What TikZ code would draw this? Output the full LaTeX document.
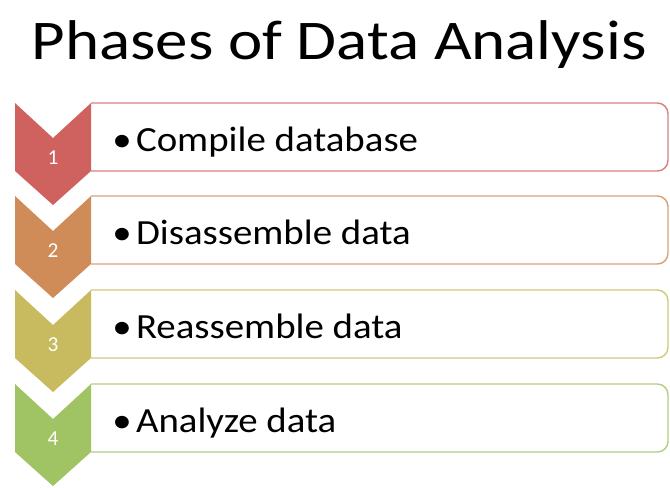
\documentclass[tikz,border=0pt]{standalone}
\usepackage{fontspec}
\setmainfont{Carlito}
\definecolor{phaseone}{RGB}{207,97,94}
\definecolor{phasetwo}{RGB}{207,140,88}
\definecolor{phasethree}{RGB}{200,187,95}
\definecolor{phasefour}{RGB}{160,195,100}

\begin{document}
\begin{tikzpicture}[x=0.75pt,y=-0.75pt,
  chevron/.style={fill=#1,draw=none},
  itembox/.style={draw=#1!80,line width=1.1pt,fill=white},
  itemtext/.style={anchor=base west,inner sep=0pt,xscale=1.1,font=\fontsize{26.5}{32}\selectfont},
  phasenum/.style={text=white,font=\fontsize{16}{18}\selectfont,inner sep=0pt}]
\useasboundingbox (0,0) rectangle (670,487);
\node[anchor=base,inner sep=0pt,xscale=1.16,font=\fontsize{42}{50}\selectfont] (title) at (339,59) {Phases of Data Analysis};
% phase 1
\draw[itembox=phaseone] (91,103) [rounded corners=8] -- (668,103) -- (668,171) [sharp corners] -- (91,171);
\fill[chevron=phaseone] (15,103) -- (53,138) -- (91,103) -- (91,171) -- (53,205) -- (15,171) -- cycle;
\node[phasenum] (n1) at (53,158) {1};
\node[itemtext] (t1) at (112,151) {•\hspace{3pt}Compile database};
% phase 2
\draw[itembox=phasetwo] (91,196) [rounded corners=8] -- (668,196) -- (668,264) [sharp corners] -- (91,264);
\fill[chevron=phasetwo] (15,196) -- (53,231) -- (91,196) -- (91,264) -- (53,298) -- (15,264) -- cycle;
\node[phasenum] (n2) at (53,251) {2};
\node[itemtext] (t2) at (112,244) {•\hspace{3pt}Disassemble data};
% phase 3
\draw[itembox=phasethree] (91,290) [rounded corners=8] -- (668,290) -- (668,358) [sharp corners] -- (91,358);
\fill[chevron=phasethree] (15,290) -- (53,325) -- (91,290) -- (91,358) -- (53,392) -- (15,358) -- cycle;
\node[phasenum] (n3) at (53,345) {3};
\node[itemtext] (t3) at (112,338) {•\hspace{3pt}Reassemble data};
% phase 4
\draw[itembox=phasefour] (91,384) [rounded corners=8] -- (668,384) -- (668,452) [sharp corners] -- (91,452);
\fill[chevron=phasefour] (15,384) -- (53,419) -- (91,384) -- (91,452) -- (53,486) -- (15,452) -- cycle;
\node[phasenum] (n4) at (53,439) {4};
\node[itemtext] (t4) at (112,432) {•\hspace{3pt}Analyze data};
\end{tikzpicture}
\end{document}
